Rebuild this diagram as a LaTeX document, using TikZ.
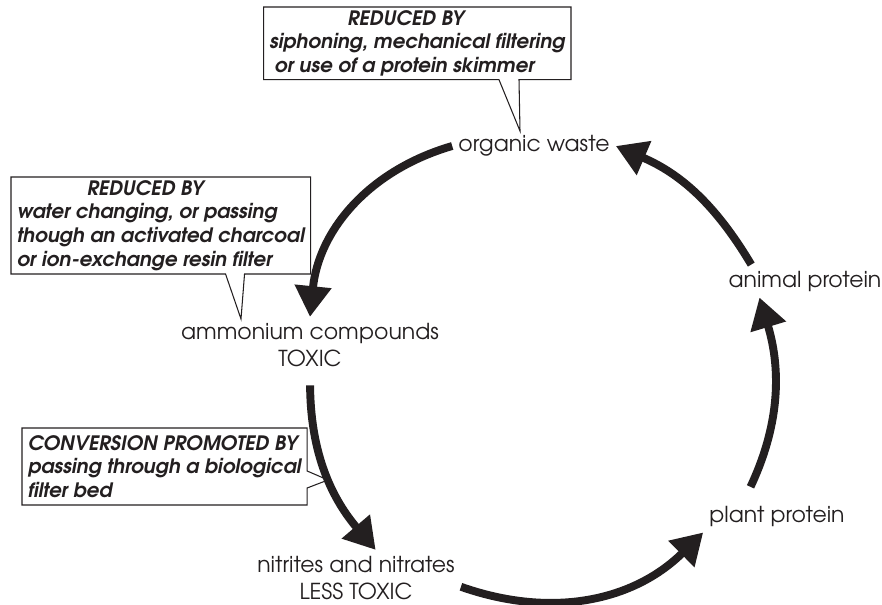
\documentclass[tikz,border=0pt]{standalone}
\usepackage{fontspec}
\setmainfont{texgyreadventor}[
  Extension=.otf,
  UprightFont=*-regular,
  BoldFont=*-bold,
  ItalicFont=*-italic,
  BoldItalicFont=*-bolditalic]
\usetikzlibrary{arrows.meta}

\definecolor{ink}{RGB}{35,31,32}

\begin{document}
\begin{tikzpicture}[
  stage/.style={font=\fontsize{12.5}{15.5}\selectfont, align=center, text=ink},
  note/.style={font=\fontsize{11.3}{13.4}\selectfont\bfseries\itshape, align=left, inner xsep=0.12cm, inner ysep=2pt, outer sep=0pt, text=ink},
  bubble/.style={draw=ink, line width=0.6pt},
  flow/.style={draw=ink, line width=4.5pt, -{Triangle[length=17.5pt,width=20pt]}}
]
\useasboundingbox (0,0) rectangle (17.64,12.10);

% stages of the cycle
\node[stage] (waste) at (10.68,9.18) {organic waste};
\node[stage] (ammonium) at (6.20,5.20) {ammonium compounds\\TOXIC};
\node[stage] (nitrites) at (7.12,0.54) {nitrites and nitrates\\LESS TOXIC};
\node[stage] (plant) at (15.54,1.78) {plant protein};
\node[stage] (animal) at (16.10,6.48) {animal protein};

% the cycle itself
\draw[flow] (waste.west) to[bend right=34] (ammonium.north);
\draw[flow, shorten <=7pt] (ammonium.south) to[bend right=20] (nitrites.55);
\draw[flow] ([yshift=-5pt]nitrites.east) to[bend right=32] (plant.south west);
\draw[flow, shorten <=8pt] ([xshift=-0.65cm]plant.north) to[bend right=21] ([xshift=0.74cm]animal.south west);
\draw[flow] (animal.163) to[bend right=18] (waste.east);

% notes on how each stage is handled
\node[note, anchor=north east, minimum height=1.4cm] (cut1) at (11.42,11.96)
  {\hspace*{1.56cm}REDUCED BY\\siphoning, mechanical filtering\\\hspace*{0.1cm}or use of a protein skimmer};
\node[note, anchor=north west, minimum height=1.9cm] (cut2) at (0.22,8.56)
  {\hspace*{1.4cm}REDUCED BY\\water changing, or passing\\though an activated charcoal\\or ion-exchange resin filter};
\node[note, anchor=north west, minimum height=1.54cm] (cut3) at (0.44,3.54)
  {CONVERSION PROMOTED BY\\passing through a biological\\filter bed};

\coordinate (tip1) at (10.40,9.48);
\coordinate (tip2) at (4.82,5.72);
\coordinate (tip3) at (6.56,2.50);

\draw[bubble] (cut1.north west) -- (cut1.north east) |- ([xshift=-1.04cm]cut1.south east)
  -- (tip1) -- ([xshift=-1.44cm]cut1.south east) -- (cut1.south west) -- cycle;
\draw[bubble] (cut2.north west) -- (cut2.north east) |- ([xshift=-1.32cm]cut2.south east)
  -- (tip2) -- ([xshift=-1.70cm]cut2.south east) -- (cut2.south west) -- cycle;
\draw[bubble] (cut3.north west) -- (cut3.north east) -- ([yshift=-0.86cm]cut3.north east)
  -- (tip3) -- ([yshift=-1.20cm]cut3.north east) |- (cut3.south west) -- cycle;
\end{tikzpicture}
\end{document}
